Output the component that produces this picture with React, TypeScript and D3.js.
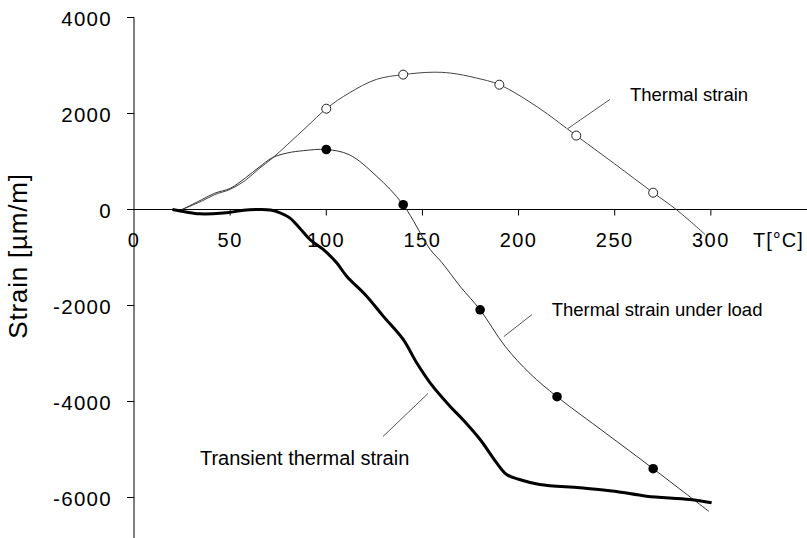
import { line, curveCatmullRom, scaleLinear } from 'd3';

type Pt = [number, number];

const X_TICKS = [0, 50, 100, 150, 200, 250, 300];
const Y_TICKS = [4000, 2000, 0, -2000, -4000, -6000];

// temperature [°C], strain [µm/m]
const thermalStrain: Pt[] = [
  [25, 0], [35, 170], [42, 310], [50, 420], [58, 610], [65, 850], [72, 1070],
  [80, 1360], [90, 1730], [100, 2100], [112, 2430], [126, 2710], [140, 2810],
  [155, 2860], [165, 2840], [178, 2740], [190, 2600], [210, 2130], [230, 1540],
  [250, 950], [270, 350], [282, 0], [297, -520],
];
const thermalMarkers: Pt[] = [[100, 2100], [140, 2810], [190, 2600], [230, 1540], [270, 350]];

const underLoad: Pt[] = [
  [25, 0], [35, 200], [42, 340], [50, 440], [58, 660], [65, 880], [72, 1080],
  [80, 1180], [88, 1225], [100, 1250], [112, 1140], [126, 700], [140, 100],
  [154, -830], [160, -1100], [170, -1620], [180, -2090], [193, -2850], [206, -3420],
  [220, -3900], [245, -4650], [270, -5400], [299, -6290],
];
const underLoadMarkers: Pt[] = [[100, 1250], [140, 100], [180, -2090], [220, -3900], [270, -5400]];

const transient: Pt[] = [
  [20, 0], [27, -50], [34, -90], [41, -90], [48, -70], [57, -15], [65, 0], [71, -10],
  [76, -70], [81, -175], [86, -380], [91.5, -625], [98.4, -833], [105.4, -1110],
  [110.6, -1390], [121, -1806], [129.6, -2222], [140, -2708], [147, -3194],
  [154, -3611], [164.3, -4097], [171, -4375], [180, -4792], [188.6, -5278],
  [193.8, -5521], [200, -5620], [211, -5729], [232, -5799], [250, -5870],
  [266.6, -5972], [289, -6042], [300.4, -6111],
];

// label text, anchor [T, strain], leader from/to
const labels: { text: string; at: Pt; size: number; leader: [Pt, Pt] }[] = [
  { text: 'Thermal strain', at: [257.9, 2256], size: 18.5, leader: [[225.7, 1688], [247.5, 2292]] },
  { text: 'Thermal strain under load', at: [217.2, -2219], size: 18.5, leader: [[192.4, -2646], [207, -2188]] },
  { text: 'Transient thermal strain', at: [34.3, -5327], size: 20, leader: [[129.5, -4729], [152.9, -3833]] },
];

const W = 807;
const H = 538;
const FONT = '"Liberation Sans", Arial, sans-serif';

export default function App() {
  const x = scaleLinear().domain([0, 350]).range([134, 807]);
  const y = scaleLinear().domain([4000, -7000]).range([17.5, 545.5]);

  const path = line<Pt>()
    .x((d) => x(d[0]))
    .y((d) => y(d[1]))
    .curve(curveCatmullRom.alpha(0.5));

  const x0 = x(0);
  const y0 = y(0);

  return (
    <svg
      width={W}
      height={H}
      viewBox={`0 0 ${W} ${H}`}
      style={{ position: 'absolute', left: 0, top: 0, background: '#fff', fontFamily: FONT }}
    >
      {/* axes */}
      <line x1={x0} x2={x0} y1={y(4000)} y2={H} stroke="#000" strokeWidth={1} />
      <line x1={x0} x2={W} y1={y0} y2={y0} stroke="#000" strokeWidth={1} />
      {Y_TICKS.map((t) => (
        <g key={`y${t}`}>
          <line x1={x0 - 7} x2={x0} y1={y(t)} y2={y(t)} stroke="#000" />
          <text x={112} y={y(t) + 8} textAnchor="end" fontSize={20.5} letterSpacing={1.3} fill="#000">
            {t}
          </text>
        </g>
      ))}
      {X_TICKS.map((t) => (
        <g key={`x${t}`}>
          {t !== 0 && <line x1={x(t)} x2={x(t)} y1={y0} y2={y0 + 6} stroke="#000" />}
          <text x={x(t)} y={247} textAnchor="middle" fontSize={20} letterSpacing={1.5} fill="#000">
            {t}
          </text>
        </g>
      ))}
      <text x={753} y={247} fontSize={20} letterSpacing={1} fill="#000">
        T[°C]
      </text>
      <text
        transform={`translate(27 256) rotate(-90)`}
        textAnchor="middle"
        fontSize={26}
        letterSpacing={0.8}
        fill="#000"
      >
        Strain [µm/m]
      </text>

      {/* curves */}
      <path d={path(thermalStrain) ?? ''} fill="none" stroke="#444" strokeWidth={1} />
      <path d={path(underLoad) ?? ''} fill="none" stroke="#333" strokeWidth={1} />
      <path d={path(transient) ?? ''} fill="none" stroke="#000" strokeWidth={3} strokeLinejoin="round" />

      {thermalMarkers.map((d, i) => (
        <circle key={`t${i}`} cx={x(d[0])} cy={y(d[1])} r={4.5} fill="#fff" stroke="#222" strokeWidth={1} />
      ))}
      {underLoadMarkers.map((d, i) => (
        <circle key={`u${i}`} cx={x(d[0])} cy={y(d[1])} r={4.8} fill="#000" />
      ))}

      {/* annotations */}
      {labels.map((l) => (
        <g key={l.text}>
          <line
            x1={x(l.leader[0][0])}
            y1={y(l.leader[0][1])}
            x2={x(l.leader[1][0])}
            y2={y(l.leader[1][1])}
            stroke="#555"
            strokeWidth={1}
          />
          <text x={x(l.at[0])} y={y(l.at[1])} fontSize={l.size} fill="#000">
            {l.text}
          </text>
        </g>
      ))}
    </svg>
  );
}
